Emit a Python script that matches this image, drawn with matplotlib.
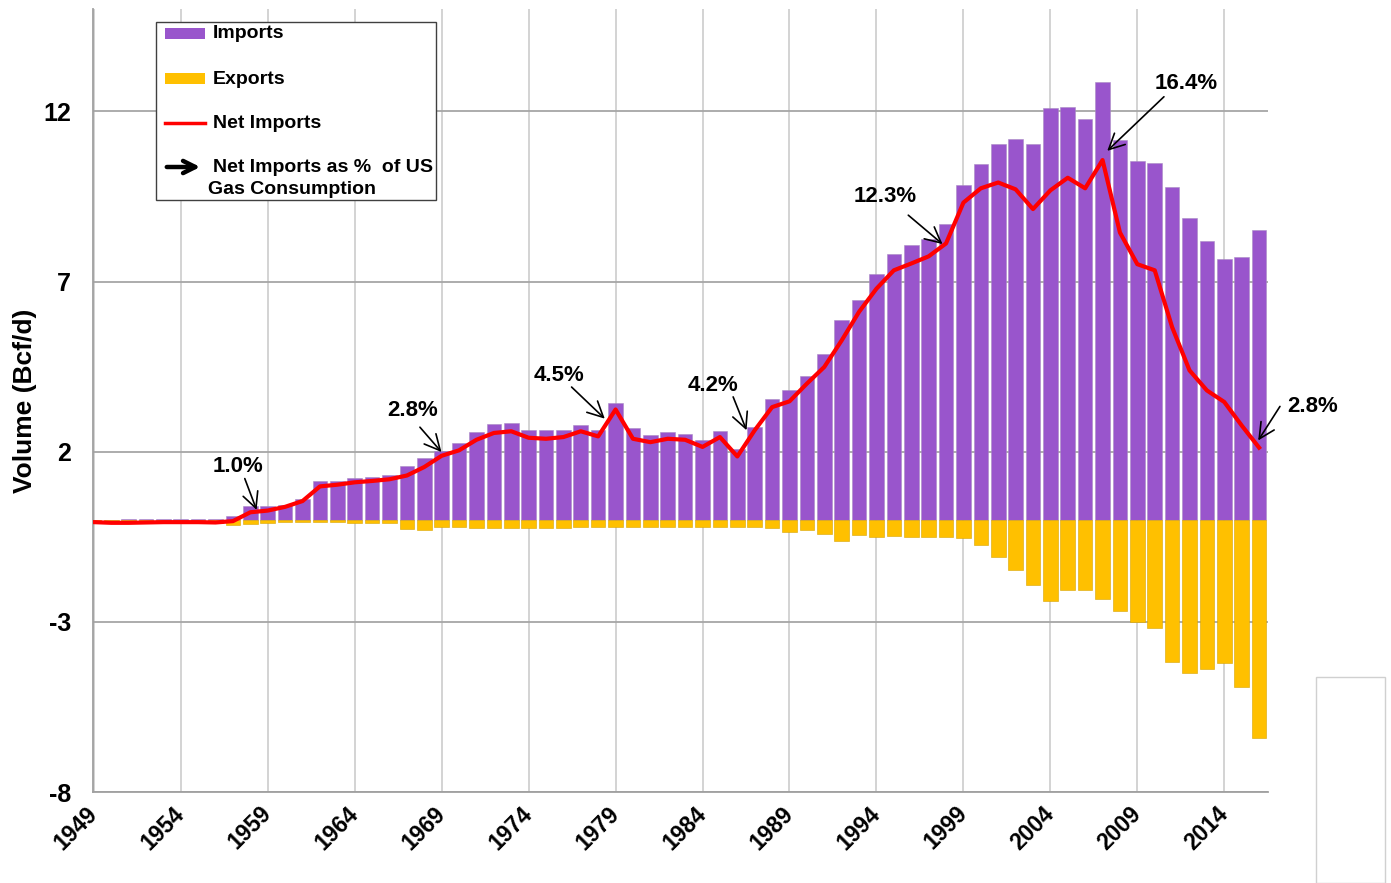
import numpy as np
import matplotlib
matplotlib.use("Agg")
import matplotlib.pyplot as plt
from matplotlib.patches import Rectangle, FancyArrowPatch
from matplotlib.lines import Line2D

plt.rcParams['font.family'] = ['Liberation Sans', 'DejaVu Sans']
plt.rcParams['font.weight'] = 'bold'

years = list(range(1949, 2017))

# Bcf/d
imports = [0.0, 0.0, 0.01, 0.02, 0.025, 0.02, 0.03, 0.03, 0.11, 0.39,
           0.39, 0.44, 0.60, 1.13, 1.13, 1.22, 1.25, 1.31, 1.57, 1.81,
           2.01, 2.27, 2.57, 2.81, 2.85, 2.65, 2.63, 2.65, 2.78, 2.65,
           3.44, 2.71, 2.48, 2.57, 2.51, 2.33, 2.62, 2.07, 2.73, 3.55,
           3.80, 4.21, 4.87, 5.88, 6.45, 7.22, 7.80, 8.07, 8.25, 8.68,
           9.85, 10.45, 11.03, 11.20, 11.05, 12.09, 12.12, 11.79, 12.86, 11.16,
           10.53, 10.49, 9.78, 8.88, 8.18, 7.66, 7.71, 8.51]

exports = [0.06, 0.07, 0.07, 0.08, 0.08, 0.08, 0.09, 0.10, 0.14, 0.12,
           0.10, 0.08, 0.08, 0.08, 0.08, 0.09, 0.10, 0.10, 0.26, 0.30,
           0.20, 0.22, 0.24, 0.25, 0.25, 0.24, 0.24, 0.23, 0.21, 0.21,
           0.20, 0.20, 0.21, 0.20, 0.20, 0.20, 0.20, 0.21, 0.20, 0.24,
           0.36, 0.29, 0.42, 0.62, 0.46, 0.50, 0.48, 0.50, 0.50, 0.51,
           0.53, 0.74, 1.10, 1.48, 1.92, 2.38, 2.06, 2.06, 2.33, 2.68,
           3.01, 3.17, 4.18, 4.49, 4.38, 4.20, 4.91, 6.40]

net_imports = [-0.07, -0.09, -0.09, -0.08, -0.07, -0.07, -0.07, -0.08, -0.04, 0.22,
               0.27, 0.38, 0.55, 0.98, 1.03, 1.10, 1.14, 1.19, 1.30, 1.55,
               1.88, 2.04, 2.35, 2.55, 2.60, 2.41, 2.38, 2.43, 2.60, 2.45,
               3.24, 2.38, 2.28, 2.38, 2.35, 2.14, 2.43, 1.86, 2.63, 3.31,
               3.48, 4.00, 4.49, 5.27, 6.11, 6.79, 7.33, 7.53, 7.74, 8.12,
               9.32, 9.74, 9.91, 9.71, 9.13, 9.68, 10.05, 9.74, 10.57, 8.44,
               7.51, 7.33, 5.66, 4.39, 3.80, 3.46, 2.77, 2.12]

# share of US consumption: (label, label position, arrow tail, arrow tip) in (year index, Bcf/d)
callouts = [
    ("1.0%", (8.28, 1.57), (8.68, 1.21), (9.36, 0.29)),
    ("2.8%", (18.34, 3.21), (18.75, 2.72), (19.99, 1.99)),
    ("4.5%", (26.74, 4.25), (27.47, 3.90), (29.38, 2.97)),
    ("4.2%", (35.60, 3.95), (36.76, 3.61), (37.53, 2.63)),
    ("12.3%", (45.49, 9.49), (46.83, 8.95), (48.80, 8.10)),
    ("16.4%", (62.83, 12.83), (61.53, 12.43), (58.27, 10.84)),
    ("2.8%", (70.10, 3.34), (68.20, 3.33), (66.95, 2.33)),
]

PURPLE = '#9955CC'
GOLD = '#FFC000'
RED = '#FF0000'

W, H = 1391, 883
fig = plt.figure(figsize=(W / 100, H / 100), dpi=100)


def fx(px):
    return px / W


def fy(py):
    return 1 - py / H


ax = fig.add_axes([fx(93.3), fy(792), fx(1268.3) - fx(93.3), fy(9.3) - fy(792)])

x = np.arange(len(years))
ax.bar(x, imports, width=0.84, color=PURPLE, edgecolor='#a98bc4', linewidth=0.4, zorder=2)
ax.bar(x, [-v for v in exports], width=0.84, color=GOLD, edgecolor='#d9a400', linewidth=0.4, zorder=2)
ax.plot(x, net_imports, color=RED, lw=3.0, solid_joinstyle='round', zorder=4)

ax.set_xlim(-0.03, 67.53)
ax.set_ylim(-8, 15)
ax.set_yticks([-8, -3, 2, 7, 12])
ax.set_yticklabels(['-8', '-3', '2', '7', '12'], fontsize=18, fontweight='bold')
ticks = x[::5]
ax.set_xticks(ticks)
ax.set_xticklabels([str(years[i]) for i in ticks], rotation=45, ha='right', va='center',
                   rotation_mode='anchor', fontsize=16.5, fontweight='bold')
ax.tick_params(axis='both', length=0)
ax.tick_params(axis='y', pad=16)
ax.tick_params(axis='x', pad=13)

ax.set_axisbelow(True)
ax.grid(axis='y', color='#a6a6a6', lw=1.3)
ax.grid(axis='x', color='#d0d0d0', lw=1.3)
for side in ['top', 'right']:
    ax.spines[side].set_visible(False)
for side in ['left', 'bottom']:
    ax.spines[side].set_color('#a0a0a0')
    ax.spines[side].set_linewidth(1.3)

ax.set_ylabel('Volume (Bcf/d)', fontsize=19, fontweight='bold')
ax.yaxis.set_label_coords(-0.048, 0.5)

for label, txt, tail, tip in callouts:
    ax.text(txt[0], txt[1], label, fontsize=16, fontweight='bold', ha='center', va='center',
            clip_on=False, zorder=6)
    ax.annotate('', xy=tip, xytext=tail, annotation_clip=False, zorder=6,
                arrowprops=dict(arrowstyle='->', color='black', lw=1.2, mutation_scale=28,
                                shrinkA=0, shrinkB=0))

# legend box
fig.patches.append(Rectangle((fx(156), fy(200)), fx(436) - fx(156), fy(22) - fy(200),
                             transform=fig.transFigure, facecolor='white',
                             edgecolor='#404040', lw=1.0, zorder=10))
fig.patches.append(Rectangle((fx(165), fy(39)), fx(40), fy(0) - fy(11),
                             transform=fig.transFigure, facecolor=PURPLE, edgecolor='none', zorder=11))
fig.patches.append(Rectangle((fx(165), fy(84)), fx(40), fy(0) - fy(11),
                             transform=fig.transFigure, facecolor=GOLD, edgecolor='none', zorder=11))
fig.lines.append(Line2D([fx(165), fx(205)], [fy(123), fy(123)], transform=fig.transFigure,
                        color=RED, lw=2.5, zorder=11))
fig.text(fx(213), fy(34), 'Imports', fontsize=14, fontweight='bold', va='center', zorder=12)
fig.text(fx(213), fy(79), 'Exports', fontsize=14, fontweight='bold', va='center', zorder=12)
fig.text(fx(213), fy(123), 'Net Imports', fontsize=14, fontweight='bold', va='center', zorder=12)
fig.text(fx(213), fy(168), 'Net Imports as %  of US', fontsize=14, fontweight='bold',
         va='center', zorder=12)
fig.text(fx(208), fy(190), 'Gas Consumption', fontsize=14, fontweight='bold', va='center', zorder=12)
fig.add_artist(FancyArrowPatch(
    (fx(164), fy(167)), (fx(203), fy(167)), transform=fig.transFigure,
    arrowstyle='->', mutation_scale=22, lw=3.2, color='black', zorder=12))

# empty frame at lower right
fig.patches.append(Rectangle((fx(1316), fy(883)), fx(1385) - fx(1316), fy(677) - fy(883),
                             transform=fig.transFigure, facecolor='white',
                             edgecolor='#d0d0d0', lw=1.0))

fig.savefig('out.png', dpi=100)
